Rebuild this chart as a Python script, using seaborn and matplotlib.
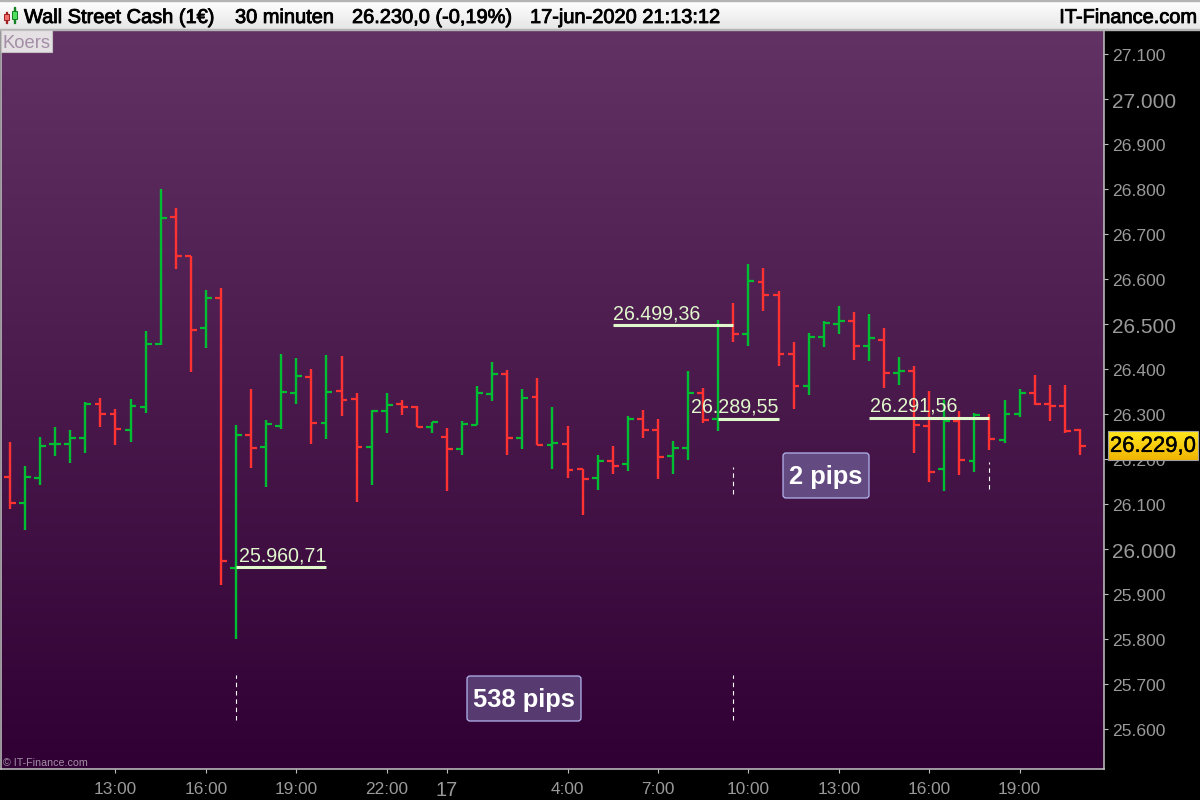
import numpy as np
import pandas as pd
import matplotlib
matplotlib.use("Agg")
import matplotlib.pyplot as plt
import matplotlib.patheffects as pe
from matplotlib.patches import FancyBboxPatch, Rectangle
from matplotlib.colors import LinearSegmentedColormap
from matplotlib.transforms import ScaledTranslation
import seaborn as sns

# Bars, 30 minutes each, values in index points
opens = [26161, 26103, 26159, 26234, 26234, 26248, 26323, 26301, 26265, 26317, 26457, 26739,
         26652, 26492, 26559, 25959, 26254, 26228, 26274, 26348, 26383, 26281, 26352, 26334,
         26228, 26308, 26323, 26317, 26272, 26250, 26223, 26277, 26345, 26390, 26248, 26339,
         26232, 26234, 26179, 26159, 26197, 26190, 26290, 26265, 26208, 26225, 26348, 26290,
         26499, 26479, 26594, 26565, 26434, 26363, 26472, 26501, 26508, 26452, 26465, 26392,
         26397, 26274, 26179, 26285, 26197, 26292, 26243, 26301, 26348, 26323, 26319, 26265]
highs = [26239, 26185, 26250, 26272, 26265, 26328, 26337, 26312, 26334, 26485, 26801, 26759,
         26652, 26577, 26581, 26277, 26357, 26288, 26434, 26425, 26401, 26432, 26430, 26348,
         26310, 26348, 26332, 26319, 26283, 26270, 26285, 26363, 26417, 26399, 26357, 26381,
         26317, 26274, 26179, 26210, 26230, 26297, 26310, 26290, 26241, 26397, 26359, 26510,
         26548, 26634, 26625, 26574, 26461, 26481, 26508, 26541, 26528, 26523, 26492, 26428,
         26408, 26352, 26332, 26308, 26303, 26301, 26332, 26357, 26388, 26365, 26365, 26268]
lows = [26090, 26043, 26143, 26208, 26192, 26214, 26272, 26232, 26239, 26303, 26454, 26623,
        26394, 26448, 25921, 25801, 26181, 26139, 26268, 26323, 26234, 26245, 26297, 26105,
        26143, 26259, 26299, 26272, 26259, 26130, 26210, 26277, 26330, 26210, 26223, 26232,
        26179, 26159, 26077, 26132, 26168, 26174, 26248, 26157, 26168, 26199, 26281, 26263,
        26461, 26452, 26530, 26408, 26312, 26343, 26450, 26479, 26421, 26419, 26359, 26365,
        26214, 26150, 26130, 26165, 26172, 26221, 26237, 26294, 26321, 26285, 26259, 26210]
closes = [26103, 26161, 26230, 26234, 26248, 26323, 26301, 26268, 26319, 26457, 26737, 26652,
          26488, 26559, 25974, 26254, 26225, 26279, 26350, 26385, 26281, 26350, 26332, 26228,
          26308, 26321, 26317, 26272, 26283, 26223, 26279, 26348, 26390, 26248, 26337, 26232,
          26237, 26177, 26157, 26197, 26185, 26290, 26265, 26205, 26225, 26348, 26288, 26499,
          26479, 26597, 26565, 26434, 26363, 26472, 26503, 26508, 26452, 26470, 26392, 26397,
          26277, 26172, 26285, 26199, 26299, 26245, 26301, 26348, 26323, 26319, 26263, 26230]

# Axis ticks
price_ticks = [27100, 27000, 26900, 26800, 26700, 26600, 26500, 26400, 26300, 26200, 26100,
               26000, 25900, 25800, 25700, 25600]
price_labels = ["27.100", "27.000", "26.900", "26.800", "26.700", "26.600", "26.500", "26.400",
                "26.300", "26.200", "26.100", "26.000", "25.900", "25.800", "25.700", "25.600"]
time_ticks = [7, 13, 19, 25, 29, 37, 43, 49, 55, 61, 67]
time_labels = ["13:00", "16:00", "19:00", "22:00", "17", "4:00", "7:00", "10:00", "13:00",
               "16:00", "19:00"]

# Marked levels: label, price, first bar, last bar
level_labels = ["25.960,71", "26.499,36", "26.289,55", "26.291,56"]
level_prices = [25960.71, 26499.36, 26289.55, 26291.56]
level_starts = [15, 40, 47, 57]
level_ends = [21, 48, 51, 65]

# Dashed markers under the swings: bar, top, bottom
dash_bars = [15, 48, 48, 65]
dash_tops = [25721, 25721, 26184, 26195]
dash_bottoms = [25621, 25621, 26123, 26134]

W, H = 1200, 800
RED = "#ff3232"
GREEN = "#00be32"
LEVEL = "#e0f8cc"
GREY = "#9a9a9a"


def fx(x):
    return x / W


def fy(y):
    return 1 - y / H


def gradient_axes(x0, y0, x1, y1, top, bottom, z):
    a = fig.add_axes([fx(x0), fy(y1), (x1 - x0) / W, (y1 - y0) / H], zorder=z)
    cmap = LinearSegmentedColormap.from_list("g", [top, bottom])
    a.imshow(np.linspace(0, 1, 256).reshape(-1, 1), cmap=cmap, aspect="auto", extent=(0, 1, 0, 1))
    a.set_xticks([])
    a.set_yticks([])
    for s in a.spines.values():
        s.set_visible(False)
    return a


sns.set_style("dark")
plt.rcParams["font.family"] = ["Liberation Sans", "DejaVu Sans"]

df = pd.DataFrame({"bar": np.arange(len(opens)), "open": opens, "high": highs, "low": lows, "close": closes})
df["direction"] = np.where(df["close"] >= df["open"], "up", "down")
wicks = df.melt(id_vars=["bar", "direction"], value_vars=["high", "low"], value_name="price")
palette = {"up": GREEN, "down": RED}

fig = plt.figure(figsize=(12, 8), dpi=100, facecolor="black")
ax = fig.add_axes([fx(1), fy(769), 1103 / W, 739 / H], zorder=1)
ax.set_facecolor("#300034")

# Background gradient of the price pane
grad = LinearSegmentedColormap.from_list("pane", ["#633264", "#300034"])
ax.imshow(np.linspace(0, 1, 256).reshape(-1, 1), cmap=grad, aspect="auto",
          extent=(0, 1, 0, 1), transform=ax.transAxes, zorder=0)

sns.lineplot(data=wicks, x="bar", y="price", hue="direction", units="bar", estimator=None,
             palette=palette, linewidth=1.7, legend=False, sort=False, ax=ax, zorder=2,
             solid_capstyle="butt")
sns.scatterplot(data=df, x="bar", y="open", hue="direction", palette=palette, marker=0, s=18,
                linewidth=1.6, legend=False, ax=ax, zorder=2)
sns.scatterplot(data=df, x="bar", y="close", hue="direction", palette=palette, marker=1, s=18,
                linewidth=1.6, legend=False, ax=ax, zorder=2)

ax.hlines(level_prices, level_starts, level_ends, color=LEVEL, linewidth=2.2, zorder=4)
ax.vlines(dash_bars, dash_bottoms, dash_tops, color="white", linewidth=0.8,
          linestyles=(0, (4, 3.5)), zorder=4)

ax.set_xlim(-0.597, 72.6)
ax.set_ylim(25512.2, 27154.4)
ax.set_xlabel("")
ax.set_ylabel("")
ax.grid(False)

ax.yaxis.tick_right()
ax.set_yticks(price_ticks)
ax.set_yticklabels(price_labels)
ax.set_xticks(time_ticks)
ax.set_xticklabels(time_labels)
ax.tick_params(axis="y", which="major", right=True, left=False, length=3, width=0.8, color="#c0c0c0",
               labelcolor=GREY, pad=3)
ax.tick_params(axis="x", which="major", bottom=True, length=3, width=0.8, color="#c0c0c0",
               labelcolor=GREY, pad=6)
nudge = ScaledTranslation(0, -1 / 100, fig.dpi_scale_trans)
for val, lab in zip(price_ticks, ax.get_yticklabels()):
    lab.set_fontsize(15 if val % 500 == 0 else 12.6)
    lab.set_transform(lab.get_transform() + nudge)
for txt, lab in zip(time_labels, ax.get_xticklabels()):
    lab.set_fontsize(14.5 if txt == "17" else 12.4)
ax.spines["top"].set_visible(False)
for side in ["left", "right", "bottom"]:
    ax.spines[side].set_color("#c4c4c4")
    ax.spines[side].set_linewidth(1.1)

# Header bar
head = gradient_axes(0, 1, W, 29, "#ffffff", "#e6e6e6", 6)
fig.add_artist(Rectangle((0, fy(1)), 1, 1 / H, transform=fig.transFigure, color="#b4b4b4", zorder=7))
fig.add_artist(Rectangle((0, fy(30)), 1, 1 / H, transform=fig.transFigure, color="#b4b4b4", zorder=7))
stroke = [pe.withStroke(linewidth=0.6, foreground="black")]
head_texts = [(24, "Wall Street Cash (1€)"), (235, "30 minuten"), (352, "26.230,0 (-0,19%)"),
              (530, "17-jun-2020 21:13:12")]
for x, s in head_texts:
    fig.text(fx(x), fy(17.5), s, fontsize=14.4, color="black", va="center", ha="left",
             zorder=8, path_effects=stroke)
fig.text(fx(1197), fy(17.5), "IT-Finance.com", fontsize=14.4, color="black", va="center", ha="right",
         zorder=8, path_effects=stroke)

# Little candle icon in the header
for x0, x1, y0, y1, yw0, yw1, col, edge in [(4, 9, 14, 20, 12, 23, "#f07070", "#a02020"),
                                            (12, 17, 11, 19, 7, 23, "#50e060", "#108020")]:
    fig.add_artist(Rectangle((fx(x0 + 2), fy(yw1)), 1 / W, (yw1 - yw0) / H, transform=fig.transFigure,
                             color=edge, zorder=8))
    fig.add_artist(Rectangle((fx(x0), fy(y1)), (x1 - x0) / W, (y1 - y0) / H, transform=fig.transFigure,
                             facecolor=col, edgecolor=edge, linewidth=0.7, zorder=9))

# Koers tab
fig.add_artist(Rectangle((fx(1), fy(52)), 51 / W, 22 / H, transform=fig.transFigure,
                         facecolor="#e4e0e4", edgecolor="#c0c0c0", linewidth=0.8, zorder=8))
fig.text(fx(3), fy(43), "Koers", fontsize=13.2, color="#a48ea6", va="center", ha="left", zorder=9)

# Level labels
for s, tx, ty in zip(level_labels, [239, 613.5, 691, 870], [556, 314, 407, 406]):
    fig.text(fx(tx), fy(ty), s, fontsize=14.1, color=LEVEL, va="center", ha="left", zorder=5)

# Pips boxes
for x0, y0, x1, y1, s, face in [(467, 676, 581, 721, "538 pips", "#563a70"),
                                (783, 453, 869, 498, "2 pips", "#634a80")]:
    fig.add_artist(FancyBboxPatch((x0 + 3, H - y1 + 3), x1 - x0 - 6, y1 - y0 - 6,
                                  boxstyle="round,pad=3,rounding_size=3", transform=None,
                                  facecolor=face, edgecolor="#b4b4f0", linewidth=0.9, zorder=5))
    fig.text(fx((x0 + x1) / 2), fy((y0 + y1) / 2 + 1.5), s, fontsize=18.4, fontweight="bold", color="white",
             va="center", ha="center", zorder=6)

fig.text(fx(3), fy(763), "© IT-Finance.com", fontsize=7.7, color="#a48ea6", va="center", ha="left", zorder=5)

# Last price box
box = gradient_axes(1108, 431, 1198, 460, "#ffe61e", "#f0b400", 6)
box.text(0.5, 0.47, "26.229,0", transform=box.transAxes, fontsize=15.9, color="black",
         va="center", ha="center", path_effects=[pe.withStroke(linewidth=0.3, foreground="black")])
fig.add_artist(Rectangle((fx(1108), fy(460)), 90 / W, 29 / H, transform=fig.transFigure,
                         facecolor="none", edgecolor="#a0a0a0", linewidth=0.8, zorder=7))

fig.savefig("out.png", dpi=100, facecolor="black")
